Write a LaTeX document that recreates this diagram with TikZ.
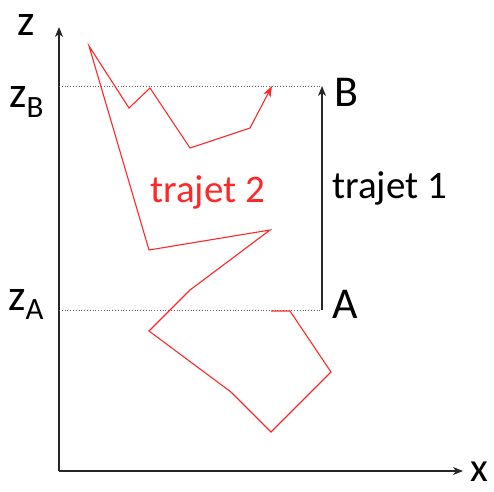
\documentclass[tikz,border=0pt]{standalone}
\usepackage{fontspec}
\setmainfont{Carlito}
\usepackage{tikz}
\usetikzlibrary{positioning,arrows.meta}
\definecolor{trajred}{RGB}{255,40,40}

\begin{document}
\begin{tikzpicture}[x=1pt,y=-1pt,>={Stealth[length=10pt,width=8pt,inset=3pt]},
    axis/.style={->,line width=1.1pt,black!85},
    level/.style={dotted,line width=0.8pt,black!60},
    path2/.style={trajred,line width=1.1pt,line join=miter},
    lbl/.style={anchor=base west,inner sep=0pt,font=\fontsize{44}{44}\selectfont},
    tlbl/.style={anchor=base west,inner sep=0pt,font=\fontsize{39}{39}\selectfont}]
    \useasboundingbox (0,0) rectangle (494,491);
    % axes
    \coordinate (O) at (59,471);
    \coordinate (ztop) at (59,27);
    \coordinate (xend) at (463,471);
    \draw[axis] (O) -- (ztop);
    \draw[axis] (O) -- (xend);
    \node[lbl] (zlab) at (17,35) {z};
    \node[lbl,font=\fontsize{41}{41}\selectfont] (xlab) at (470,481) {x};
    \node[lbl] (zB) at (9,107) {z\raisebox{-10pt}{\fontsize{31}{31}\selectfont B}};
    \node[lbl] (zA) at (8,310) {z\raisebox{-9pt}{\fontsize{31}{31}\selectfont A}};
    % levels and trajet 1
    \coordinate (ptA) at (322,310);
    \coordinate (ptB) at (322,86);
    \coordinate (zAax) at (59,310);
    \coordinate (zBax) at (59,86);
    \draw[level] (zBax) -- (ptB);
    \draw[level] (zAax) -- (ptA);
    \draw[axis] (ptA) -- (ptB);
    \node[lbl] (labA) at (332,318) {A};
    \node[lbl] (labB) at (334,106) {B};
    \node[tlbl] (t1) at (332,198) {trajet 1};
    % trajet 2
    \foreach \n/\p in {1/{271,311},2/{290,311},3/{331,372},4/{271,432},5/{231,392},
                       6/{149,331},7/{190,290},8/{270,230},9/{149,250},10/{89,46},
                       11/{129,108},12/{150,88},13/{190,148},14/{250,128},15/{272,86}}
      \coordinate (r\n) at (\p);
    \draw[path2] (r1) -- (r2) -- (r3) -- (r4) -- (r5) -- (r6) -- (r7) -- (r8)
      -- (r9) -- (r10) -- (r11) -- (r12) -- (r13) -- (r14);
    \draw[path2,->,>={Stealth[length=11pt,width=8pt,inset=3pt]}] (r14) -- (r15);
    \node[tlbl,text=trajred] (t2) at (150,202) {trajet 2};
\end{tikzpicture}
\end{document}
